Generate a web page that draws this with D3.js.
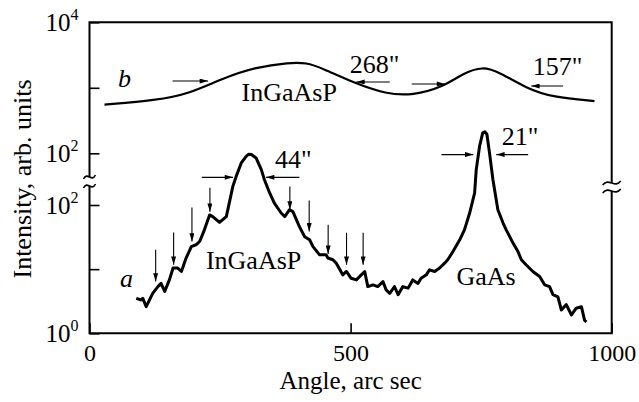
<!DOCTYPE html>
<html>
<head>
<meta charset="utf-8">
<script src="https://cdn.jsdelivr.net/npm/d3@7"></script>
<style>
body { margin: 0; background: #fff; }
text { font-family: "Liberation Serif", "Times New Roman", serif; fill: #000; }
</style>
</head>
<body>
<div id="chart"></div>
<script>
const width = 639;
const height = 402;

// curve a: angle (arc sec) and intensity, lower axis part
const curveAAngle = [89.5, 99, 102, 108.6, 121, 131, 137, 144, 153, 160, 169, 176, 185, 195, 204, 211, 220, 230, 236, 249,
    262, 274.5, 281, 290.6, 300, 305, 310, 319, 329, 335, 345, 354, 367, 374, 383, 389.5, 402, 412, 421.5, 428,
    440.6, 453, 456.5, 466, 472.6, 485, 492, 501, 511, 520.5, 527, 533, 543, 552, 562, 568, 575, 584, 591, 600,
    610, 619, 629, 635, 645, 651, 661, 670.5, 680, 686, 696, 709, 718, 728, 737.5, 740.6, 747, 753, 757, 761,
    766, 772.6, 782, 792, 798, 811, 820.5, 827, 836, 849, 862, 871.6, 881, 887.5, 897, 903.6, 913, 923, 932, 942,
    948, 951.5];
const curveAIntensity = [3.5, 3.3, 3.5, 2.6, 4.2, 5.35, 6.0, 4.5, 6.8, 10.4, 10.4, 9.2, 14.9, 22.5, 24, 27, 41, 70, 66, 53.5,
    66, 195, 280, 453, 574, 620, 611, 542, 356, 248, 154, 107, 75, 66, 84.5, 79, 46, 32, 28.7, 22.5,
    16.7, 16.7, 14.9, 14, 12.4, 8.15, 9.2, 7.2, 6.8, 8.15, 9.2, 5.35, 5.7, 5.35, 6.4, 4.75, 4.2, 5.35, 4.0, 5.35,
    5.05, 6.8, 6.0, 7.2, 8.15, 9.75, 9.2, 10.4, 12.4, 14, 18.8, 28.7, 41, 75, 154, 356, 824, 1330, 1380, 1270,
    650, 248, 84.5, 52.3, 41, 25.5, 18.8, 14, 11.7, 9.2, 7.7, 5.7, 5.35, 4.0, 3.7, 2.3, 2.8, 1.93, 2.46, 2.6,
    1.6, 1.5];

// curve b: upper axis part
const curveBAngle = [28.7, 127.8, 191.6, 254.8, 319.3, 383, 415, 446, 504, 569, 619, 676, 715, 753, 785, 837, 887, 967];
const curveBIntensity = [555, 645, 815, 1396, 2080, 2427, 2427, 1985, 1213, 796, 767, 1018, 1663, 2128, 1726, 982, 716, 628];

const xTicks = [0, 500, 1000];
const yTicksUpper = [100, 1000, 10000];
const yTicksLower = [1, 10, 100];

// FWHM arrows: [tail angle, head angle, intensity]
const arrowsB = [[159, 227, 1270], [575, 511, 1228], [617, 681, 1143], [907, 846, 1064]];
const arrowsAH = [[215, 275, 270], [402, 338, 270], [674, 735, 611], [840, 779, 611]];
// satellite arrows: [angle, tail intensity, head intensity]
const arrowsAV = [[126.7, 20, 6.4], [161.1, 37.3, 11.7], [196.2, 91.8, 27], [230.6, 186, 78.6], [383.7, 195, 84.5],
    [420.7, 118, 38.7], [457, 49.2, 17.3], [492.2, 36.9, 11.7], [524, 36.9, 11.7]];

// labels: [text, angle, intensity, part, italic]
const labels = [
    ["b", 54.5, 1028, "b", true],
    ["InGaAsP", 291.3, 628, "b", false],
    ["268\"", 498.6, 1683, "b", false],
    ["157\"", 848.8, 1567, "b", false],
    ["44\"", 355, 383, "a", false],
    ["21\"", 789.5, 875, "a", false],
    ["InGaAsP", 223, 10.1, "a", false],
    ["GaAs", 702.8, 5.69, "a", false],
    ["a", 58.4, 5.29, "a", true]
];

const svg = d3.select("#chart").append("svg")
    .attr("width", width)
    .attr("height", height);

const x = d3.scaleLinear().domain([0, 1000]).range([89.5, 611.7]);
const yB = d3.scaleLog().domain([100, 10000]).range([153.3, 22.3]);
const yA = d3.scaleLog().domain([1, 100]).range([333.3, 205]);
const yOf = p => p === "a" ? yA : yB;

// axis break positions (pixels)
const breakLeft = [177, 186];
const breakRight = [183, 191];

svg.append("defs").append("marker")
    .attr("id", "head")
    .attr("viewBox", "0 0 10 6")
    .attr("refX", 10).attr("refY", 3)
    .attr("markerWidth", 9).attr("markerHeight", 5)
    .attr("markerUnits", "userSpaceOnUse")
    .attr("orient", "auto")
    .append("path").attr("d", "M0,0L10,3L0,6Z").attr("fill", "#000");

// frame with broken left/right sides
const x0 = x(0), x1 = x(1000), yTop = yB(10000), yBot = yA(1);
const frame = [
    [[x0, breakLeft[0]], [x0, yTop], [x1, yTop], [x1, breakRight[0]]],
    [[x0, breakLeft[1]], [x0, yBot], [x1, yBot], [x1, breakRight[1]]]
];
svg.selectAll(".frame").data(frame).enter().append("path")
    .attr("class", "frame")
    .attr("d", d3.line())
    .attr("fill", "none").attr("stroke", "#000").attr("stroke-width", 2);

// tilde break marks
function tilde(cx, cy, w) {
    return `M${cx - w / 2},${cy + 2}C${cx - w / 6},${cy - 6} ${cx + w / 6},${cy + 6} ${cx + w / 2},${cy - 2}`;
}
[[x0, breakLeft[0], 12], [x0, breakLeft[1], 12], [x1, breakRight[0], 18], [x1, breakRight[1], 18]].forEach(d => {
    svg.append("path").attr("d", tilde(d[0], d[1], d[2]))
        .attr("fill", "none").attr("stroke", "#000").attr("stroke-width", 1.6);
});

function supLabels(g) {
    g.attr("font-size", 25).attr("font-family", "Liberation Serif");
    g.select(".domain").remove();
    g.selectAll(".tick line").attr("stroke-width", 1.6);
    g.selectAll(".tick text").each(function(d) {
        const e = Math.round(Math.log10(d));
        const t = d3.select(this).text(null);
        if (e % 2) return;
        t.append("tspan").text("10");
        t.append("tspan").attr("dy", -11).attr("font-size", 16).text(e);
    });
}

svg.append("g").attr("transform", `translate(${x0},0)`)
    .call(d3.axisLeft(yB).tickValues(yTicksUpper).tickSizeInner(-10).tickSizeOuter(0).tickPadding(11))
    .call(supLabels);

svg.append("g").attr("transform", `translate(${x0},0)`)
    .call(d3.axisLeft(yA).tickValues(yTicksLower).tickSizeInner(-10).tickSizeOuter(0).tickPadding(11))
    .call(supLabels);

svg.append("g").attr("transform", `translate(0,${yBot})`)
    .call(d3.axisBottom(x).tickValues(xTicks).tickSizeInner(-10).tickSizeOuter(0).tickPadding(11).tickFormat(d3.format("d")))
    .attr("font-size", 24).attr("font-family", "Liberation Serif")
    .call(g => g.select(".domain").remove())
    .call(g => g.selectAll(".tick line").attr("stroke-width", 1.6));

// curves
const lineB = d3.line().x(d => x(d[0])).y(d => yB(d[1])).curve(d3.curveBasis);
const lineA = d3.line().x(d => x(d[0])).y(d => yA(d[1]));

svg.append("path")
    .datum(d3.zip(curveBAngle, curveBIntensity))
    .attr("d", lineB)
    .attr("fill", "none").attr("stroke", "#000").attr("stroke-width", 2.2);

svg.append("path")
    .datum(d3.zip(curveAAngle, curveAIntensity))
    .attr("d", lineA)
    .attr("fill", "none").attr("stroke", "#000").attr("stroke-width", 3)
    .attr("stroke-linejoin", "round");

// arrows
const arrows = [];
arrowsB.forEach(d => arrows.push([x(d[0]), yB(d[2]), x(d[1]), yB(d[2])]));
arrowsAH.forEach(d => arrows.push([x(d[0]), yA(d[2]), x(d[1]), yA(d[2])]));
arrowsAV.forEach(d => arrows.push([x(d[0]), yA(d[1]), x(d[0]), yA(d[2])]));

svg.selectAll(".arrow").data(arrows).enter().append("line")
    .attr("class", "arrow")
    .attr("x1", d => d[0]).attr("y1", d => d[1])
    .attr("x2", d => d[2]).attr("y2", d => d[3])
    .attr("stroke", "#000").attr("stroke-width", 1.1)
    .attr("marker-end", "url(#head)");

// labels
svg.selectAll(".label").data(labels).enter().append("text")
    .attr("class", "label")
    .attr("x", d => x(d[1]))
    .attr("y", d => yOf(d[3])(d[2]))
    .attr("font-size", 26)
    .attr("font-style", d => d[4] ? "italic" : "normal")
    .text(d => d[0]);

// axis titles
svg.append("text")
    .attr("x", (x0 + x1) / 2).attr("y", 389)
    .attr("text-anchor", "middle").attr("font-size", 25)
    .text("Angle, arc sec");

svg.append("text")
    .attr("transform", "translate(31,179) rotate(-90)")
    .attr("text-anchor", "middle").attr("font-size", 26)
    .text("Intensity, arb. units");
</script>
</body>
</html>
